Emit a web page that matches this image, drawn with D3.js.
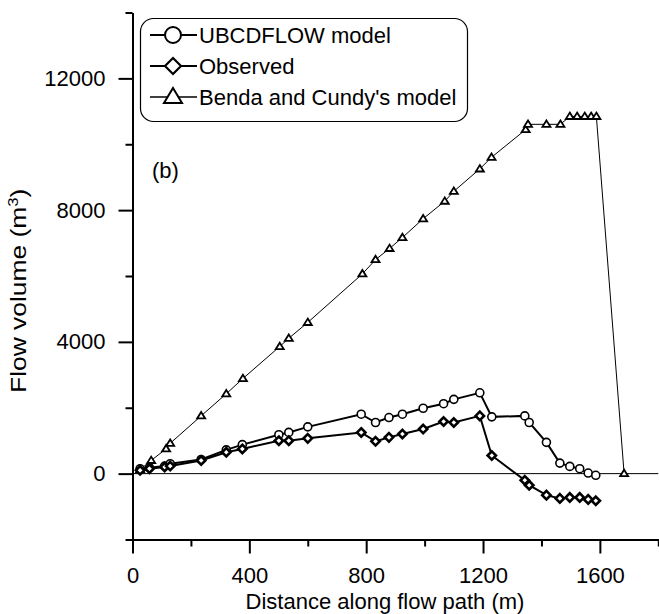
<!DOCTYPE html>
<html>
<head>
<meta charset="utf-8">
<script src="https://cdn.jsdelivr.net/npm/d3@7"></script>
<style>
  html, body { margin: 0; padding: 0; background: #fff; }
  svg { display: block; }
  text { font-family: "Liberation Sans", Arial, sans-serif; fill: #000; }
</style>
</head>
<body>
<svg id="chart" width="659" height="614"></svg>
<script>
// ---- data ----
const ubcDist = [26, 58, 110, 129, 235, 321, 376, 501, 535, 600, 783, 832, 878, 924, 995, 1065, 1100, 1189, 1230, 1343, 1358, 1417, 1463, 1497, 1531, 1560, 1586];
const ubcVol  = [150, 180, 230, 300, 430, 720, 880, 1182, 1251, 1420, 1804, 1552, 1702, 1804, 1985, 2123, 2255, 2454, 1723, 1753, 1552, 950, 319, 220, 150, 18, -51];

const obsDist = [26, 58, 110, 129, 235, 321, 376, 501, 535, 600, 783, 832, 878, 924, 995, 1065, 1100, 1189, 1230, 1343, 1358, 1417, 1463, 1497, 1531, 1560, 1586];
const obsVol  = [100, 150, 200, 230, 400, 650, 750, 1000, 1000, 1071, 1251, 981, 1101, 1203, 1353, 1582, 1552, 1753, 550, -201, -352, -653, -752, -722, -722, -782, -824];

const bcDist = [26, 64, 115, 129, 235, 321, 378, 504, 535, 600, 787, 832, 880, 924, 995, 1069, 1100, 1189, 1229, 1346, 1354, 1417, 1465, 1497, 1522, 1548, 1570, 1588, 1683];
const bcVol  = [120, 400, 752, 920, 1753, 2424, 2887, 3859, 4109, 4590, 6064, 6496, 6836, 7167, 7738, 8271, 8571, 9251, 9603, 10445, 10605, 10605, 10605, 10845, 10845, 10845, 10845, 10845, 0];

const xMajorTicks = [0, 400, 800, 1200, 1600];
const xMinorTicks = [200, 600, 1000, 1400, 1800];
const yMajorTicks = [0, 4000, 8000, 12000];
const yMinorTicks = [-2000, 2000, 6000, 10000, 14000];

const seriesNames = ["UBCDFLOW model", "Observed", "Benda and Cundy's model"];
const xTitle = "Distance along flow path (m)";
const panelLabel = "(b)";

// ---- layout ----
const svg = d3.select("#chart");
const x = d3.scaleLinear().domain([0, 1800]).range([132.5, 658.3]);
const y = d3.scaleLinear().domain([-2000, 14000]).range([539.5, 12.5]);
const FONT = 22;

function zip(a, b) { return a.map((d, i) => [d, b[i]]); }
const ubc = zip(ubcDist, ubcVol);
const obs = zip(obsDist, obsVol);
const bc = zip(bcDist, bcVol);

// zero reference line
svg.append("line")
  .attr("x1", x(0)).attr("x2", x(1800))
  .attr("y1", y(0)).attr("y2", y(0))
  .attr("stroke", "#000").attr("stroke-width", 1);

// axes
const gx = svg.append("g").attr("transform", `translate(0,${y(-2000)})`);
gx.call(d3.axisBottom(x).tickValues(xMajorTicks).tickSize(14).tickSizeOuter(0).tickPadding(14).tickFormat(d3.format("d")));
const gxm = svg.append("g").attr("transform", `translate(0,${y(-2000)})`);
gxm.call(d3.axisBottom(x).tickValues(xMinorTicks).tickSize(7).tickSizeOuter(0).tickFormat(""));

const gy = svg.append("g").attr("transform", `translate(${x(0)},0)`);
gy.call(d3.axisLeft(y).tickValues(yMajorTicks).tickSize(14).tickSizeOuter(0).tickPadding(13).tickFormat(d3.format("d")));
const gym = svg.append("g").attr("transform", `translate(${x(0)},0)`);
gym.call(d3.axisLeft(y).tickValues(yMinorTicks).tickSize(7).tickSizeOuter(0).tickFormat(""));

svg.selectAll(".domain").attr("stroke", "#000").attr("stroke-width", 2);
svg.selectAll(".tick line").attr("stroke", "#000").attr("stroke-width", 2);
svg.selectAll(".tick text")
  .attr("font-family", "Liberation Sans, Arial, sans-serif")
  .attr("font-size", FONT).attr("fill", "#000");

// axis titles
svg.append("text")
  .attr("x", 385).attr("y", 609)
  .attr("text-anchor", "middle").attr("font-size", FONT)
  .text(xTitle);

const yt = svg.append("text")
  .attr("transform", `translate(26,${y(5550)}) rotate(-90) scale(1.2,1)`)
  .attr("text-anchor", "middle").attr("font-size", FONT);
yt.append("tspan").text("Flow volume (m");
yt.append("tspan").attr("dy", -8).attr("font-size", 14).text("3");
yt.append("tspan").attr("dy", 8).text(")");

svg.append("text").attr("x", 152).attr("y", 178).attr("font-size", FONT).text(panelLabel);

// lines
const line = d3.line().x(d => x(d[0])).y(d => y(d[1]));
svg.append("path").datum(bc).attr("d", line).attr("fill", "none").attr("stroke", "#000").attr("stroke-width", 1);
svg.append("path").datum(ubc).attr("d", line).attr("fill", "none").attr("stroke", "#000").attr("stroke-width", 2);
svg.append("path").datum(obs).attr("d", line).attr("fill", "none").attr("stroke", "#000").attr("stroke-width", 2);

// markers
function tri(cx, cy, s) {
  const h = s * 0.8;
  return `M${cx},${cy - h * 0.6}L${cx + s / 2},${cy + h * 0.4}L${cx - s / 2},${cy + h * 0.4}Z`;
}
function dia(cx, cy, s) {
  return `M${cx},${cy - s}L${cx + s},${cy}L${cx},${cy + s}L${cx - s},${cy}Z`;
}
svg.append("g").selectAll("path").data(bc).join("path")
  .attr("d", d => tri(x(d[0]), y(d[1]), 8))
  .attr("fill", "#fff").attr("stroke", "#000").attr("stroke-width", 1.8);
svg.append("g").selectAll("circle").data(ubc).join("circle")
  .attr("cx", d => x(d[0])).attr("cy", d => y(d[1])).attr("r", 4)
  .attr("fill", "#fff").attr("stroke", "#000").attr("stroke-width", 1.6);
svg.append("g").selectAll("path").data(obs).join("path")
  .attr("d", d => dia(x(d[0]), y(d[1]), 4.2))
  .attr("fill", "#fff").attr("stroke", "#000").attr("stroke-width", 2.6);

// legend
const lg = svg.append("g");
lg.append("rect").attr("x", 140.5).attr("y", 18.5).attr("width", 327).attr("height", 103)
  .attr("rx", 13).attr("ry", 13).attr("fill", "#fff").attr("stroke", "#000").attr("stroke-width", 1.2);
const rows = [35, 66, 97];
rows.forEach((ry, i) => {
  lg.append("line").attr("x1", 150).attr("x2", 197).attr("y1", ry).attr("y2", ry)
    .attr("stroke", "#000").attr("stroke-width", i === 2 ? 1.5 : 2);
  if (i === 0) {
    lg.append("circle").attr("cx", 173).attr("cy", ry).attr("r", 8)
      .attr("fill", "#fff").attr("stroke", "#000").attr("stroke-width", 2);
  } else if (i === 1) {
    lg.append("path").attr("d", dia(173, ry, 8))
      .attr("fill", "#fff").attr("stroke", "#000").attr("stroke-width", 2.2);
  } else {
    lg.append("path").attr("d", `M173,${ry - 9}L182,${ry + 6}L164,${ry + 6}Z`)
      .attr("fill", "#fff").attr("stroke", "#000").attr("stroke-width", 2);
  }
  lg.append("text").attr("x", 199).attr("y", ry).attr("dy", "0.36em")
    .attr("font-size", FONT).text(seriesNames[i]);
});
</script>
</body>
</html>
